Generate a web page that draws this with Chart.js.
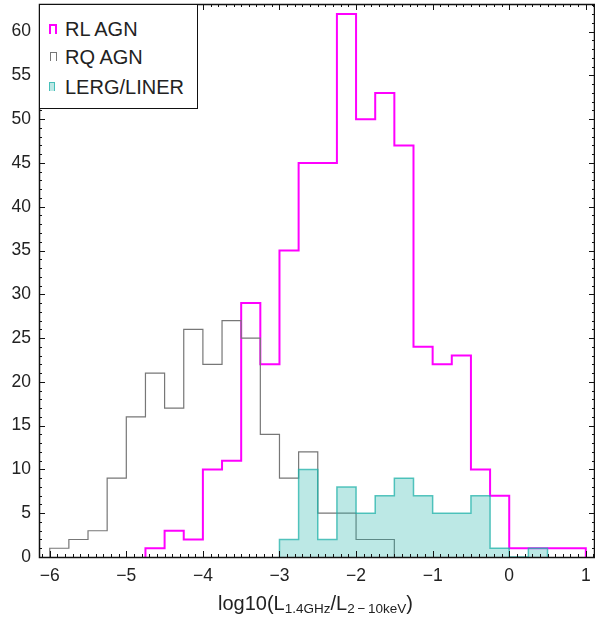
<!DOCTYPE html>
<html>
<head>
<meta charset="utf-8">
<script src="https://cdn.jsdelivr.net/npm/chart.js@4.4.1/dist/chart.umd.min.js"></script>
<style>
  body { margin: 0; background: #fff; }
  #wrap { position: relative; width: 595px; height: 621px; font-family: "Liberation Sans", Arial, sans-serif; color: #222; }
  #legend { position: absolute; left: 39px; top: 4px; width: 157px; height: 103px; border: 1px solid #111; background: #fff; }
  .item { position: absolute; left: 25px; font-size: 20px; line-height: 20px; }
  .icon { position: absolute; left: -16px; top: 5px; width: 4px; height: 8px; box-sizing: content-box; border-bottom: none; }
  #xtitle { position: absolute; left: 218px; top: 592px; font-size: 20px; line-height: 22px; white-space: nowrap; }
  #xtitle sub { font-size: 13.5px; vertical-align: -3px; line-height: 0; }
</style>
</head>
<body>
<div id="wrap">
  <canvas id="histChart" width="595" height="621"></canvas>
  <div id="legend">
    <div class="item" style="top:14px"><span class="icon" style="border:2px solid #ff00ff;border-bottom:none;"></span>RL AGN</div>
    <div class="item" style="top:42px"><span class="icon" style="border:1px solid #777;border-bottom:none;left:-15px;width:5px;"></span>RQ AGN</div>
    <div class="item" style="top:72px"><span class="icon" style="border:1.5px solid rgba(32,178,170,0.75);border-bottom:none;background:rgba(32,178,170,0.3);"></span>LERG/LINER</div>
  </div>
  <div id="xtitle">log10(L<sub>1.4GHz</sub>/L<sub>2&#8201;−&#8201;10keV</sub>)</div>
</div>
<script>
// bordes izquierdos de los bins (ancho 0.25) y borde derecho final
const binEdges = [-6, -5.75, -5.5, -5.25, -5, -4.75, -4.5, -4.25, -4, -3.75, -3.5, -3.25,
  -3, -2.75, -2.5, -2.25, -2, -1.75, -1.5, -1.25, -1, -0.75, -0.5, -0.25, 0, 0.25, 0.5, 0.75, 1];

const rlAgn = [0, 0, 0, 0, 0, 1, 3, 2, 10, 11, 29, 22, 35, 45, 45, 62, 50, 53, 47, 24, 22, 23, 10, 7, 1, 1, 1, 1];
const rqAgn = [1, 2, 3, 9, 16, 21, 17, 26, 22, 27, 25, 14, 9, 12, 5, 5, 2, 2, 0, 0, 0, 0, 0, 0, 0, 0, 0, 0];
const lergLiner = [0, 0, 0, 0, 0, 0, 0, 0, 0, 0, 0, 0, 2, 10, 2, 8, 5, 7, 9, 7, 5, 5, 7, 1, 0, 1, 0, 0];

const xTicks = [-6, -5, -4, -3, -2, -1, 0, 1];
const yTicks = [0, 5, 10, 15, 20, 25, 30, 35, 40, 45, 50, 55, 60];

// pasa conteos a puntos de escalera (stepped 'before': horizontal y luego vertical)
function toSteps(counts) {
  let first = counts.findIndex(c => c > 0);
  let last = counts.length - 1;
  while (last > 0 && counts[last] === 0) last--;
  const pts = [{ x: binEdges[first], y: 0 }];
  for (let i = first; i <= last; i++) {
    pts.push({ x: binEdges[i], y: i === first ? counts[i] : counts[i - 1] });
    pts.push({ x: binEdges[i], y: counts[i] });
  }
  pts.push({ x: binEdges[last + 1], y: counts[last] });
  pts.push({ x: binEdges[last + 1], y: 0 });
  return pts;
}

// ticks hacia dentro en los cuatro lados + marco
const frameTicks = {
  id: 'frameTicks',
  afterDatasetsDraw(chart) {
    const { ctx, chartArea: a, scales: { x, y } } = chart;
    ctx.save();
    ctx.strokeStyle = '#111';
    ctx.lineWidth = 1;
    ctx.beginPath();
    for (let k = -61; k <= 11; k++) {
      const v = k / 10;
      if (v < x.min || v > x.max) continue;
      const px = Math.round(x.getPixelForValue(v)) + 0.5;
      const len = (k % 10 === 0) ? 6 : 3;
      ctx.moveTo(px, a.bottom); ctx.lineTo(px, a.bottom - len);
      ctx.moveTo(px, a.top); ctx.lineTo(px, a.top + len);
    }
    for (let v = 0; v <= 63; v++) {
      const py = Math.round(y.getPixelForValue(v)) + 0.5;
      const len = (v % 5 === 0) ? 6 : 3;
      ctx.moveTo(a.left, py); ctx.lineTo(a.left + len, py);
      ctx.moveTo(a.right, py); ctx.lineTo(a.right - len, py);
    }
    ctx.stroke();
    ctx.lineWidth = 1.5;
    ctx.strokeRect(a.left + 0.5, a.top + 0.5, a.right - a.left - 1, a.bottom - a.top);
    ctx.restore();
  }
};

const ctx = document.getElementById('histChart').getContext('2d');
new Chart(ctx, {
  type: 'line',
  data: {
    datasets: [
      { label: 'RL AGN', data: toSteps(rlAgn), borderColor: '#ff00ff', borderWidth: 2, pointRadius: 0, fill: false, order: 3 },
      { label: 'RQ AGN', data: toSteps(rqAgn), borderColor: '#777777', borderWidth: 1.2, pointRadius: 0, fill: false, order: 2 },
      { label: 'LERG/LINER', data: toSteps(lergLiner), borderColor: 'rgba(32,178,170,0.75)', backgroundColor: 'rgba(32,178,170,0.3)', borderWidth: 1.5, pointRadius: 0, fill: 'origin', order: 1 }
    ]
  },
  options: {
    responsive: false,
    animation: false,
    devicePixelRatio: 1,
    layout: { padding: { top: 4, right: 0, left: 0, bottom: 0 } },
    plugins: { legend: { display: false }, tooltip: { enabled: false } },
    scales: {
      x: {
        type: 'linear', min: -6.14, max: 1.12,
        grid: { display: false, drawTicks: false }, border: { display: false },
        afterBuildTicks: s => { s.ticks = xTicks.map(v => ({ value: v })); },
        afterFit: s => { s.height = 64; s.paddingLeft = 0; s.paddingRight = 0; },
        ticks: {
          padding: 9, color: '#222', maxRotation: 0,
          font: { family: 'Liberation Sans', size: 17.5 },
          callback: v => (v < 0 ? '\u2212' + Math.abs(v) : String(v))
        }
      },
      y: {
        type: 'linear', min: 0, max: 63.15,
        grid: { display: false, drawTicks: false }, border: { display: false },
        afterBuildTicks: s => { s.ticks = yTicks.map(v => ({ value: v })); },
        afterFit: s => { s.width = 39; s.paddingTop = 0; s.paddingBottom = 0; },
        ticks: { padding: 8, color: '#222', font: { family: 'Liberation Sans', size: 17.5 } }
      }
    }
  },
  plugins: [frameTicks]
});
</script>
</body>
</html>
